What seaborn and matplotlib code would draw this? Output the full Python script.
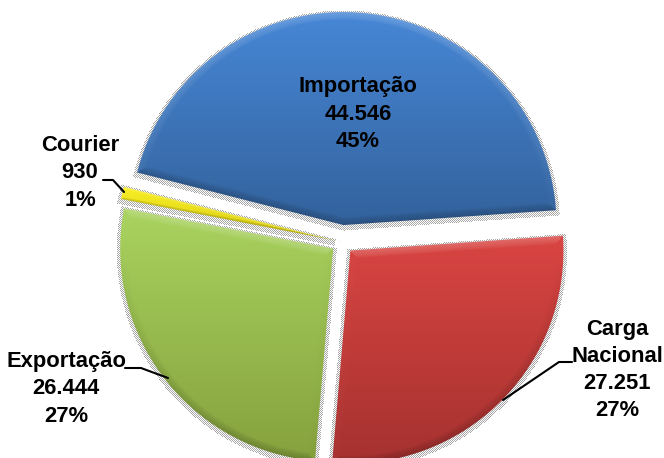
import numpy as np
import matplotlib
matplotlib.use('Agg')
import matplotlib.pyplot as plt
import seaborn as sns

categorias = ['Importação', 'Courier', 'Exportação', 'Carga\nNacional']
valores = [44546, 930, 26444, 27251]
percentuais = ['45%', '1%', '27%', '27%']

# cor de cima / cor de baixo de cada fatia
cores_topo = ['#4787d6', '#f8ee24', '#a9d35f', '#d94542']
cores_base = ['#33629c', '#d8cc14', '#86a23e', '#a63230']
bisel = [8, 2.5, 8, 8]
afastamento = [17, 12, 11, 12]

W, H = 664, 458

sns.set_style('white')
plt.rcParams['font.family'] = ['Liberation Sans', 'DejaVu Sans']

fig = plt.figure(figsize=(W / 100, H / 100), dpi=100)
ax = fig.add_axes([0, 0, 1, 1])

wedges, _ = ax.pie(valores, colors=cores_topo, startangle=4.0,
                   center=(342, H - 242), radius=213, explode=afastamento,
                   frame=False)
ax.set_xlim(0, W)
ax.set_ylim(0, H)
ax.axis('off')

px, py = np.meshgrid(np.arange(W) + 0.5, H - (np.arange(H) + 0.5))
checker = (np.indices((H, W)).sum(axis=0) % 2) == 0


def distancias(w, dy=0.0):
    cx, cy = w.center
    x = px - cx
    y = py - (cy + dy)
    rho = np.hypot(x, y)
    t1, t2 = np.deg2rad(w.theta1), np.deg2rad(w.theta2)
    d_arco = w.r - rho
    d1 = x * -np.sin(t1) + y * np.cos(t1)
    d2 = x * np.sin(t2) - y * np.cos(t2)
    ds = np.stack([d_arco, d1, d2])
    ny = np.stack([y / np.maximum(rho, 1e-6),
                   np.full_like(x, -np.cos(t1)),
                   np.full_like(x, np.cos(t2))])
    k = ds.argmin(axis=0)
    d = ds.min(axis=0)
    n = np.take_along_axis(ny, k[None], axis=0)[0]
    return d, n


# sombra pontilhada
for w in wedges:
    d, _ = distancias(w, dy=-2)
    meio = np.deg2rad((w.theta1 + w.theta2) / 2)
    frente = (px - w.center[0]) * np.cos(meio) + (py - w.center[1] + 2) * np.sin(meio)
    img = np.ones((H, W, 4))
    img[..., :3] = 0.66
    img[..., 3] = ((d > -3.5) & (frente > -5) & checker).astype(float)
    ax.imshow(img, extent=(0, W, 0, H), origin='upper', zorder=0,
              aspect='auto', interpolation='nearest')

# fatias com degrade e bisel
for w, topo, base, b in zip(wedges, cores_topo, cores_base, bisel):
    w.set_visible(False)
    d, ny = distancias(w)
    dentro = d > 0
    cmap = sns.blend_palette([topo, base], as_cmap=True)
    y0, y1 = py[dentro].max(), py[dentro].min()
    rgb = cmap(np.clip((y0 - py) / (y0 - y1), 0, 1))[..., :3]
    luz = ny * np.clip(1 - d / b, 0, 1) ** 0.7 * 0.20
    rgb = np.where(luz[..., None] > 0,
                   rgb + (1 - rgb) * luz[..., None],
                   rgb * (1 + luz[..., None]))
    img = np.dstack([rgb, np.clip(d + 0.5, 0, 1)])
    ax.imshow(img, extent=(0, W, 0, H), origin='upper', zorder=2,
              aspect='auto', interpolation='bilinear')

# rotulos
pos_rotulos = [(358, 114), (80, 173), (66, 389), (617, 370)]
for nome, v, pct, (x, y) in zip(categorias, valores, percentuais, pos_rotulos):
    txt = f"{nome}\n{v:,}".replace(',', '.') + f"\n{pct}"
    ax.text(x, H - y, txt, ha='center', va='center', fontsize=15.8,
            fontweight='bold', color='black', linespacing=1.38, zorder=5)

# linhas de chamada
guias = [([103, 113, 124], [180, 180, 192]),
         ([125, 141, 168], [368, 368, 378]),
         ([572, 559, 503], [362, 362, 400])]
for gx, gy in guias:
    ax.plot(gx, [H - g for g in gy], color='black', lw=1.5, zorder=4)

ax.set_xlim(0, W)
ax.set_ylim(0, H)
fig.savefig('out.png', dpi=100, facecolor='white')
